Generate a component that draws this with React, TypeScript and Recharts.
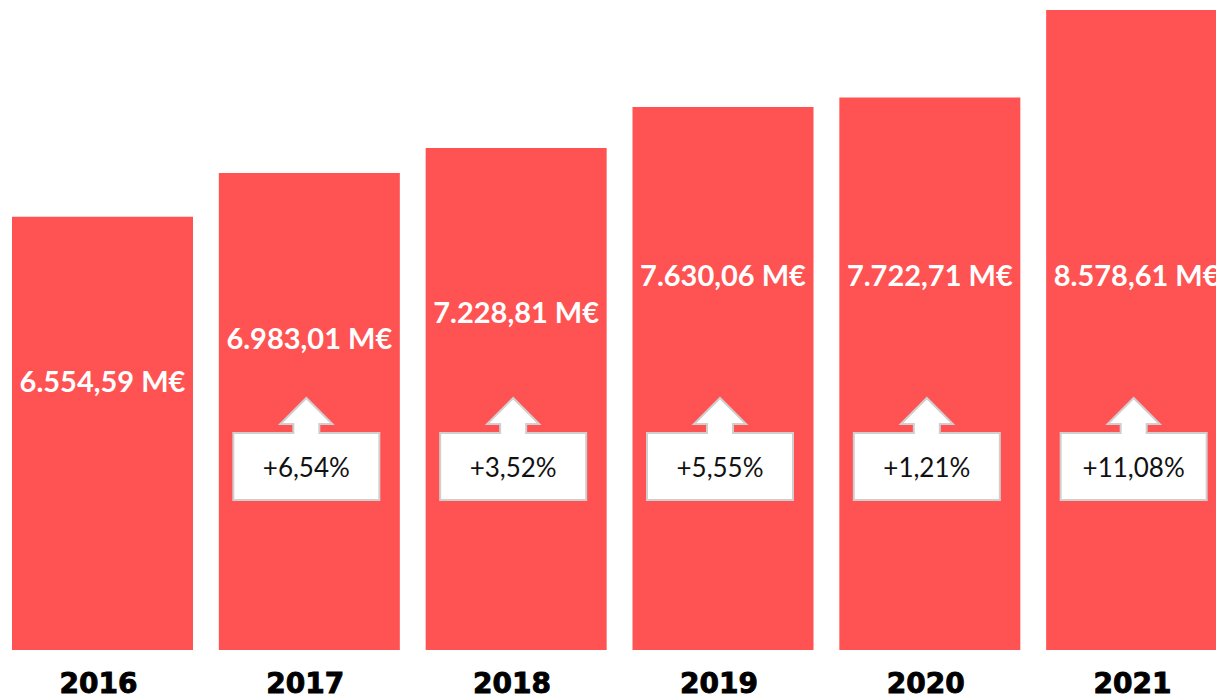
import React from 'react';
import { BarChart, Bar, XAxis, YAxis, LabelList } from 'recharts';

const years = ['2016', '2017', '2018', '2019', '2020', '2021'];
const revenue = [6554.59, 6983.01, 7228.81, 7630.06, 7722.71, 8578.61];
const growth = ['', '+6,54%', '+3,52%', '+5,55%', '+1,21%', '+11,08%'];

const data = years.map((year, i) => ({ year, revenue: revenue[i], growth: growth[i] }));

const barColor = '#FF5252';

// 6554.59 -> "6.554,59 M€"
const formatMillions = (v: number) => {
  const [int, dec] = v.toFixed(2).split('.');
  const grouped = int.replace(/\B(?=(\d{3})+(?!\d))/g, '.');
  return `${grouped},${dec} M€`;
};

const ValueLabel = (props: any) => {
  const { x, y, width, value } = props;
  // labels sit in the upper part of the bar, but no higher than the tallest one
  const cy = Math.max(y + 164, 274);
  return (
    <text
      x={x + width / 2}
      y={cy}
      textAnchor="middle"
      dominantBaseline="central"
      fill="#fff"
      fontFamily="Lato, 'Open Sans', sans-serif"
      fontWeight={700}
      fontSize={29}
    >
      {formatMillions(value)}
    </text>
  );
};

const GrowthArrow = (props: any) => {
  const { x, y, width, height, value } = props;
  if (!value) return null;
  const cx = x + width / 2 - 3;
  const top = y + height - 217;
  const bottom = top + 67;
  const left = cx - 73;
  const right = cx + 73;
  const d = [
    `M${left},${top}`,
    `L${cx - 13},${top}`,
    `L${cx - 13},${top - 9}`,
    `L${cx - 26},${top - 9}`,
    `L${cx},${top - 35}`,
    `L${cx + 26},${top - 9}`,
    `L${cx + 13},${top - 9}`,
    `L${cx + 13},${top}`,
    `L${right},${top}`,
    `L${right},${bottom}`,
    `L${left},${bottom}`,
    'Z',
  ].join(' ');
  return (
    <g>
      <path d={d} fill="#fff" stroke="#cfcfcf" strokeWidth={2} strokeLinejoin="miter" />
      <text
        x={cx}
        y={top + 34}
        textAnchor="middle"
        dominantBaseline="central"
        fill="#111"
        fontFamily="Lato, 'Open Sans', sans-serif"
        fontSize={26}
      >
        {value}
      </text>
    </g>
  );
};

const YearTick = (props: any) => {
  const { x, y, payload } = props;
  return (
    <text
      x={x - 4}
      y={y}
      dy="0.75em"
      textAnchor="middle"
      fill="#000"
      stroke="#000"
      strokeWidth={0.9}
      fontFamily="'DejaVu Sans', sans-serif"
      fontWeight={700}
      fontSize={28}
    >
      {payload.value}
    </text>
  );
};

export default function App() {
  return (
    <div style={{ margin: '-8px', width: 1224, overflow: 'hidden', background: '#fff' }}>
      <BarChart
        width={1240}
        height={720}
        data={data}
        margin={{ top: 10, right: 0, bottom: 0, left: -1 }}
        barCategoryGap={0}
      >
        <XAxis
          dataKey="year"
          axisLine={false}
          tickLine={false}
          height={70}
          tickSize={0}
          tickMargin={22}
          tick={<YearTick />}
          interval={0}
        />
        <YAxis hide type="number" domain={[2316, 8578.61]} allowDataOverflow />
        <Bar dataKey="revenue" fill={barColor} barSize={181} isAnimationActive={false}>
          <LabelList dataKey="revenue" content={<ValueLabel />} />
          <LabelList dataKey="growth" content={<GrowthArrow />} />
        </Bar>
      </BarChart>
    </div>
  );
}
